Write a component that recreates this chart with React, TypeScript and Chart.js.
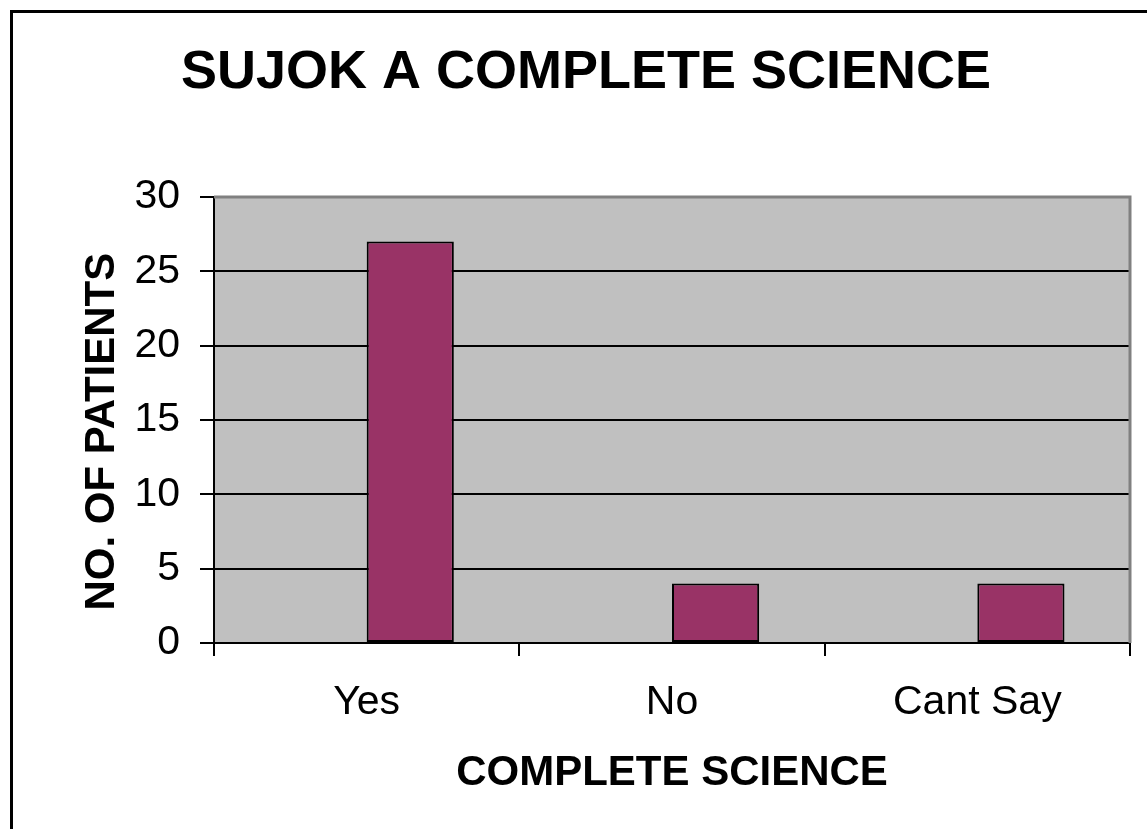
import React, { useEffect, useRef } from "react";
import { Chart, registerables } from "chart.js";

Chart.register(...registerables);

const chartTitle = "SUJOK A COMPLETE SCIENCE";
const xAxisTitle = "COMPLETE SCIENCE";
const yAxisTitle = "NO. OF PATIENTS  ";
const categories = ["Yes", "No", "Cant Say"];
const emptySeries: (number | null)[] = [null, null, null];
const patients = [27, 4, 4];
const yMin = 0;
const yMax = 30;
const yStep = 5;

const FONT = '"Liberation Sans", Arial, sans-serif';

const framePlugin = {
  id: "frame",
  beforeDraw(chart: any) {
    const { ctx, chartArea } = chart;
    ctx.save();
    ctx.fillStyle = "#ffffff";
    ctx.fillRect(0, 0, chart.width, chart.height);
    ctx.fillStyle = "#C0C0C0";
    ctx.fillRect(chartArea.left, chartArea.top, chartArea.right - chartArea.left, chartArea.bottom - chartArea.top);
    ctx.strokeStyle = "#000000";
    ctx.lineWidth = 3;
    ctx.strokeRect(11.5, 11.5, chart.width + 20, chart.height + 20);
    ctx.restore();
  },
  afterDraw(chart: any) {
    const { ctx, chartArea } = chart;
    ctx.save();
    ctx.strokeStyle = "#808080";
    ctx.lineWidth = 3;
    ctx.beginPath();
    ctx.moveTo(chartArea.left, chartArea.top);
    ctx.lineTo(chartArea.right, chartArea.top);
    ctx.lineTo(chartArea.right, chartArea.bottom);
    ctx.stroke();
    ctx.fillStyle = "#000000";
    ctx.font = `bold 54px ${FONT}`;
    ctx.textAlign = "center";
    ctx.textBaseline = "middle";
    ctx.fillText(chartTitle, 586, 73);
    ctx.restore();
  },
};

export default function App() {
  const canvasRef = useRef<HTMLCanvasElement | null>(null);

  useEffect(() => {
    if (!canvasRef.current) return;
    const chart = new Chart(canvasRef.current, {
      type: "bar",
      data: {
        labels: categories,
        datasets: [
          {
            label: "Series 1",
            data: emptySeries,
            backgroundColor: "#9999FF",
            borderColor: "#000000",
            borderWidth: 2,
            borderSkipped: false,
          },
          {
            label: "Series 2",
            data: patients,
            backgroundColor: "#993366",
            borderColor: "#000000",
            borderWidth: 2,
            borderSkipped: false,
          },
        ],
      },
      options: {
        responsive: false,
        animation: false,
        devicePixelRatio: 1,
        layout: { padding: { left: 73, top: 197, right: 17, bottom: 26 } },
        datasets: { bar: { categoryPercentage: 0.571, barPercentage: 1 } },
        plugins: {
          legend: { display: false },
          title: { display: false },
          tooltip: { enabled: false },
        },
        scales: {
          x: {
            offset: true,
            grid: {
              offset: true,
              drawOnChartArea: false,
              drawTicks: true,
              tickLength: 13,
              tickColor: "#000000",
              tickWidth: 2,
              lineWidth: 2,
              color: "#000000",
            },
            border: { display: true, color: "#000000", width: 2 },
            ticks: {
              color: "#000000",
              font: { family: FONT, size: 41 },
              padding: 22,
              maxRotation: 0,
            },
            title: {
              display: true,
              text: xAxisTitle,
              color: "#000000",
              font: { family: FONT, size: 42, weight: "bold" },
            },
            afterFit(scale: any) {
              scale.height = 160;
            },
          },
          y: {
            min: yMin,
            max: yMax,
            ticks: {
              stepSize: yStep,
              color: "#000000",
              font: { family: FONT, size: 41 },
              padding: 20,
            },
            grid: {
              color: (ctx: any) => (ctx.tick && ctx.tick.value === yMax ? "rgba(0,0,0,0)" : "#000000"),
              lineWidth: 2,
              tickLength: 14,
              tickColor: "#000000",
              tickWidth: 2,
            },
            border: { display: true, color: "#000000", width: 2 },
            title: {
              display: true,
              text: yAxisTitle,
              color: "#000000",
              font: { family: FONT, size: 42, weight: "bold" },
            },
            afterFit(scale: any) {
              scale.width = 141;
            },
          },
        },
      },
      plugins: [framePlugin],
    });
    return () => chart.destroy();
  }, []);

  return (
    <div style={{ position: "absolute", left: 0, top: 0, width: 1147, height: 829, overflow: "hidden" }}>
      <canvas ref={canvasRef} width={1147} height={829} style={{ display: "block" }} />
    </div>
  );
}
